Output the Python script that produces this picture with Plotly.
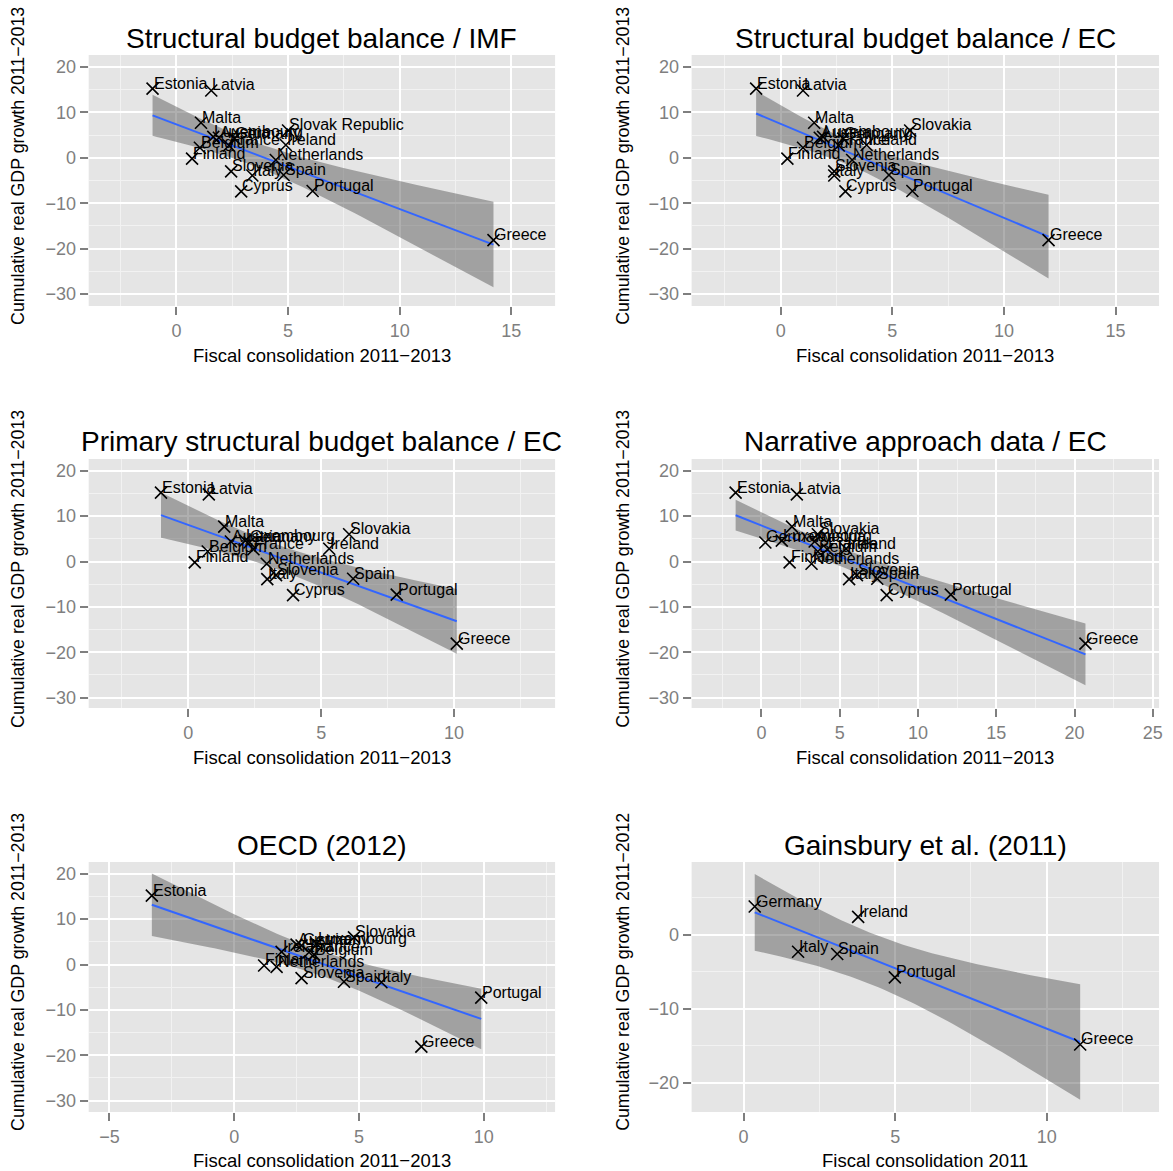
import math
import numpy as np
import plotly.graph_objects as go

# ---------------- data ----------------
countries = ["Austria", "Belgium", "Cyprus", "Estonia", "Finland", "France", "Germany",
             "Greece", "Ireland", "Italy", "Latvia", "Luxembourg", "Malta", "Netherlands",
             "Portugal", "Slovakia", "Slovenia", "Spain"]
labels_imf = ["Austria", "Belgium", "Cyprus", "Estonia", "Finland", "France", "Germany",
              "Greece", "Ireland", "Italy", "Latvia", "Luxembourg", "Malta", "Netherlands",
              "Portugal", "Slovak Republic", "Slovenia", "Spain"]
growth_2011_2013 = [4.4, 2.2, -7.4, 15.2, -0.2, 2.7, 4.2, -18.1, 2.8, -3.9, 14.8, 4.6, 7.7,
                    -0.5, -7.3, 6.0, -3.0, -3.8]
cons_imf = [1.9, 1.05, 2.9, -1.07, 0.7, 2.35, 2.6, 14.2, 4.9, 3.4, 1.56, 1.65, 1.1, 4.45,
            6.1, 5.0, 2.45, 4.8]
cons_ec = [1.75, 1.0, 2.9, -1.1, 0.3, 2.6, 2.8, 12.0, 3.85, 2.4, 1.0, 1.9, 1.5, 3.2,
           5.9, 5.8, 2.4, 4.85]
cons_ec_primary = [1.6, 0.73, 3.94, -1.03, 0.24, 2.45, 2.3, 10.1, 5.3, 2.97, 0.77, 2.14,
                   1.35, 2.95, 7.84, 6.05, 3.3, 6.2]
cons_narrative = [3.4, 3.6, 8.0, -1.65, 1.8, 4.2, 0.25, 20.7, 5.4, 5.6, 2.26, 1.3, 1.95,
                  3.2, 12.1, 3.6, 6.1, 7.4]

oecd_countries = ["Austria", "Belgium", "Estonia", "Finland", "France", "Germany", "Greece",
                  "Ireland", "Italy", "Luxembourg", "Netherlands", "Portugal", "Slovakia",
                  "Slovenia", "Spain"]
oecd_growth = [4.4, 2.2, 15.2, -0.2, 2.7, 4.2, -18.1, 2.8, -3.9, 4.6, -0.5, -7.3, 6.0,
               -3.0, -3.8]
cons_oecd = [2.5, 3.2, -3.3, 1.2, 3.0, 2.7, 7.5, 1.9, 5.9, 3.3, 1.7, 9.9, 4.8, 2.7, 4.4]

gains_countries = ["Germany", "Ireland", "Italy", "Spain", "Portugal", "Greece"]
gains_growth_2011_2012 = [3.8, 2.4, -2.3, -2.6, -5.75, -14.8]
cons_gains_2011 = [0.37, 3.78, 1.8, 3.09, 4.99, 11.1]

titles = ["Structural budget balance / IMF", "Structural budget balance / EC",
          "Primary structural budget balance / EC", "Narrative approach data / EC",
          "OECD (2012)", "Gainsbury et al. (2011)"]
xtitles = ["Fiscal consolidation 2011\u22122013"] * 5 + ["Fiscal consolidation 2011"]
ytitles = ["Cumulative real GDP growth 2011\u22122013"] * 5 + \
          ["Cumulative real GDP growth 2011\u22122012"]

panels = [
    (cons_imf, growth_2011_2013, labels_imf),
    (cons_ec, growth_2011_2013, countries),
    (cons_ec_primary, growth_2011_2013, countries),
    (cons_narrative, growth_2011_2013, countries),
    (cons_oecd, oecd_growth, oecd_countries),
    (cons_gains_2011, gains_growth_2011_2012, gains_countries),
]

# ---------------- layout geometry (pixels) ----------------
W, H = 1173, 1171
col_x = [(89, 557), (694, 1163)]
row_y = [(55, 306), (459, 708), (862, 1112)]
xranges = [(-3.93, 16.96), (-3.99, 16.95), (-3.75, 13.8), (-4.46, 25.4),
           (-5.83, 12.86), (-1.71, 13.7)]
yranges = [(-32.6, 22.6), (-32.6, 22.6), (-32.3, 22.6), (-32.3, 22.6),
           (-32.5, 22.6), (-23.9, 9.8)]
title_y = [38, 441, 845]
xtitle_y = [355, 757, 1160]
ytitle_cy = [166, 569, 972]
ytitle_x = [18, 625]


def px(x):
    return x / W


def py(y):
    return 1 - y / H


def t975(df):
    c = math.gamma((df + 1) / 2) / (math.sqrt(df * math.pi) * math.gamma(df / 2))
    lo, hi = 0.0, 30.0
    for _ in range(60):
        mid = (lo + hi) / 2
        xs = np.linspace(0, mid, 4001)
        val = np.trapezoid(c * (1 + xs ** 2 / df) ** (-(df + 1) / 2), xs)
        if val < 0.475:
            lo = mid
        else:
            hi = mid
    return (lo + hi) / 2


BG = "#E5E5E5"
TICKC = "#7F7F7F"
FONT = "Liberation Sans, Arial, sans-serif"

fig = go.Figure()
annotations = []

for i, (xs, ys, labs) in enumerate(panels):
    r, c = divmod(i, 2)
    k = "" if i == 0 else str(i + 1)
    xa, ya = "x" + k, "y" + k
    x = np.array(xs, float)
    y = np.array(ys, float)
    n = len(x)
    b, a = np.polyfit(x, y, 1)
    resid = y - (a + b * x)
    s = math.sqrt((resid ** 2).sum() / (n - 2))
    sxx = ((x - x.mean()) ** 2).sum()
    gx = np.linspace(x.min(), x.max(), 80)
    fit = a + b * gx
    se = s * np.sqrt(1 / n + (gx - x.mean()) ** 2 / sxx)
    t = t975(n - 2)
    lo, hi = fit - t * se, fit + t * se

    fig.add_trace(go.Scatter(x=np.concatenate([gx, gx[::-1]]),
                             y=np.concatenate([hi, lo[::-1]]),
                             fill="toself", fillcolor="rgba(85,85,85,0.47)",
                             line=dict(width=0), mode="lines", hoverinfo="skip",
                             showlegend=False, xaxis=xa, yaxis=ya))
    fig.add_trace(go.Scatter(x=gx, y=fit, mode="lines",
                             line=dict(color="#3366FF", width=2),
                             showlegend=False, xaxis=xa, yaxis=ya))
    fig.add_trace(go.Scatter(x=x, y=y, mode="markers",
                             marker=dict(symbol="x-thin", size=12, color="black",
                                         line=dict(color="black", width=1.6)),
                             showlegend=False, xaxis=xa, yaxis=ya))
    for xv, yv, lab in zip(xs, ys, labs):
        annotations.append(dict(x=xv, y=yv, xref=xa, yref=ya, text=lab,
                                showarrow=False, xanchor="left", yanchor="bottom",
                                yshift=-5, xshift=-1,
                                font=dict(family=FONT, size=16, color="black")))

    x0, x1 = col_x[c]
    y0, y1 = row_y[r]
    axcommon = dict(showline=False, zeroline=False, ticks="outside", ticklen=8,
                    tickwidth=2, tickcolor=TICKC, showgrid=True, gridcolor="white",
                    gridwidth=2, tickfont=dict(family=FONT, size=18, color=TICKC),
                    tick0=0)
    layout_x = dict(domain=[px(x0), px(x1)], range=list(xranges[i]), anchor=ya,
                    dtick=5, minor=dict(dtick=2.5, showgrid=True, gridcolor="#F2F2F2",
                                        gridwidth=1, ticks=""),
                    **axcommon)
    layout_y = dict(domain=[py(y1), py(y0)], range=list(yranges[i]), anchor=xa,
                    dtick=10, minor=dict(dtick=5, showgrid=True, gridcolor="#F2F2F2",
                                         gridwidth=1, ticks=""),
                    **axcommon)
    fig.layout["xaxis" + k] = layout_x
    fig.layout["yaxis" + k] = layout_y

    cx = (x0 + x1) / 2
    annotations.append(dict(x=px(cx), y=py(title_y[r]), xref="paper", yref="paper",
                            text=titles[i], showarrow=False, xanchor="center",
                            yanchor="middle",
                            font=dict(family=FONT, size=28, color="black")))
    annotations.append(dict(x=px(cx), y=py(xtitle_y[r]), xref="paper", yref="paper",
                            text=xtitles[i], showarrow=False, xanchor="center",
                            yanchor="middle",
                            font=dict(family=FONT, size=18.5, color="black")))
    annotations.append(dict(x=px(ytitle_x[c]), y=py(ytitle_cy[r]), xref="paper",
                            yref="paper", text=ytitles[i], showarrow=False,
                            textangle=-90, xanchor="center", yanchor="middle",
                            font=dict(family=FONT, size=17.8, color="black")))

fig.update_layout(width=W, height=H, margin=dict(l=0, r=0, t=0, b=0),
                  paper_bgcolor="white", plot_bgcolor=BG, showlegend=False,
                  annotations=annotations, font=dict(family=FONT))
fig.write_html("out.html", config={"displayModeBar": False},
               post_script="document.body.style.margin='0';"
                           "document.body.style.overflow='hidden';")
